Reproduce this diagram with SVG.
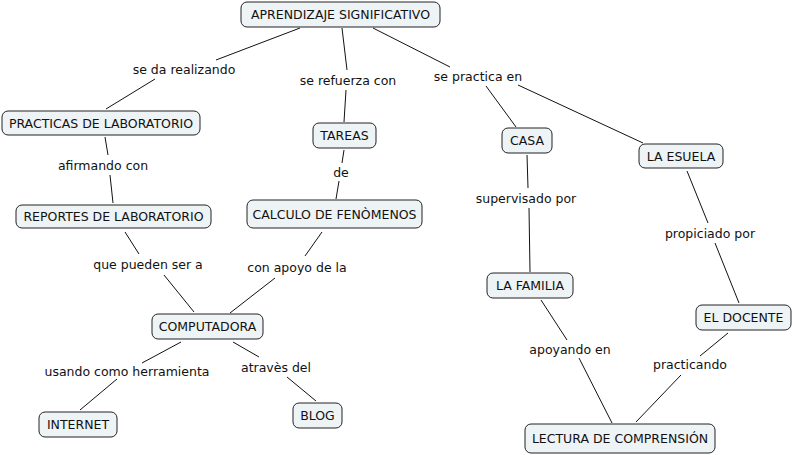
<svg xmlns="http://www.w3.org/2000/svg" width="792" height="455" viewBox="0 0 792 455">
<style>
.n rect{fill:#eef3f5;stroke:#222;stroke-width:1}
text{font-family:"DejaVu Sans",Verdana,sans-serif;font-size:12.5px;fill:#111;text-anchor:middle;dominant-baseline:central}
.c line{stroke:#111;stroke-width:1}
</style>
<rect width="792" height="455" fill="#fff"/>
<g class="c">
<line x1="300" y1="28" x2="216" y2="60"/><line x1="155" y1="79" x2="106" y2="109"/>
<line x1="342" y1="28" x2="347" y2="70"/><line x1="346" y1="90" x2="344" y2="122"/>
<line x1="373" y1="28" x2="450" y2="67"/><line x1="486" y1="86" x2="516" y2="127"/><line x1="518" y1="85" x2="643" y2="143"/>
<line x1="105" y1="137" x2="108" y2="155"/><line x1="110" y1="175" x2="113" y2="203"/>
<line x1="344" y1="150" x2="342" y2="163"/><line x1="339" y1="181" x2="336" y2="199"/>
<line x1="527" y1="155" x2="528" y2="188"/><line x1="529" y1="208" x2="530" y2="272"/>
<line x1="687" y1="171" x2="708" y2="223"/><line x1="715" y1="243" x2="739" y2="303"/>
<line x1="125" y1="232" x2="139" y2="254"/><line x1="164" y1="275" x2="194" y2="312"/>
<line x1="322" y1="232" x2="305" y2="256"/><line x1="275" y1="278" x2="230" y2="313"/>
<line x1="181" y1="342" x2="142" y2="363"/><line x1="117" y1="379" x2="80" y2="410"/>
<line x1="233" y1="342" x2="259" y2="357"/><line x1="287" y1="377" x2="316" y2="401"/>
<line x1="541" y1="300" x2="567" y2="340"/><line x1="579" y1="358" x2="612" y2="423"/>
<line x1="728" y1="333" x2="700" y2="356"/><line x1="681" y1="375" x2="636" y2="422"/>
</g>
<g id="labels">
<text x="184" y="69">se da realizando</text>
<text x="348" y="80">se refuerza con</text>
<text x="478" y="76">se practica en</text>
<text x="103" y="165">afirmando con</text>
<text x="341" y="172">de</text>
<text x="526" y="198">supervisado por</text>
<text x="710" y="233">propiciado por</text>
<text x="148" y="264">que pueden ser a</text>
<text x="297" y="267">con apoyo de la</text>
<text x="127" y="371">usando como herramienta</text>
<text x="276" y="367">atravès del</text>
<text x="570" y="349">apoyando en</text>
<text x="690" y="364">practicando</text>
</g>
<g id="n1" class="n"><rect x="241" y="2" width="199" height="25" rx="6"/><text x="340.5" y="14.5">APRENDIZAJE SIGNIFICATIVO</text></g>
<g id="n2" class="n"><rect x="2" y="111" width="198" height="24" rx="6"/><text x="101" y="123">PRACTICAS DE LABORATORIO</text></g>
<g id="n3" class="n"><rect x="313" y="123" width="63" height="25" rx="6"/><text x="344.5" y="135.5">TAREAS</text></g>
<g id="n4" class="n"><rect x="502" y="128" width="50" height="25" rx="6"/><text x="527" y="140.5">CASA</text></g>
<g id="n5" class="n"><rect x="639" y="144" width="84" height="24" rx="6"/><text x="681" y="156">LA ESUELA</text></g>
<g id="n6" class="n"><rect x="16" y="205" width="195" height="23" rx="6"/><text x="113.5" y="216.5">REPORTES DE LABORATORIO</text></g>
<g id="n7" class="n"><rect x="247" y="200" width="175" height="28" rx="6"/><text x="334.5" y="214">CALCULO DE FENÒMENOS</text></g>
<g id="n8" class="n"><rect x="487" y="273" width="86" height="25" rx="6"/><text x="530" y="285.5">LA FAMILIA</text></g>
<g id="n9" class="n"><rect x="696" y="305" width="95" height="25" rx="6"/><text x="743.5" y="317.5">EL DOCENTE</text></g>
<g id="n10" class="n"><rect x="152" y="314" width="111" height="25" rx="6"/><text x="207.5" y="326.5">COMPUTADORA</text></g>
<g id="n11" class="n"><rect x="39" y="412" width="78" height="25" rx="6"/><text x="78" y="424.5">INTERNET</text></g>
<g id="n12" class="n"><rect x="293" y="403" width="49" height="25" rx="6"/><text x="317.5" y="415.5">BLOG</text></g>
<g id="n13" class="n"><rect x="525" y="424" width="190" height="29" rx="6"/><text x="620" y="438.5">LECTURA DE COMPRENSIÓN</text></g>
</svg>
